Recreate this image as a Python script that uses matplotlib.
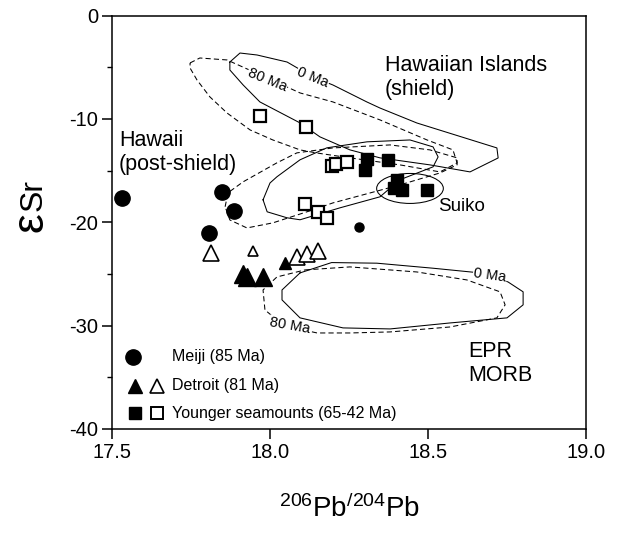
import matplotlib
matplotlib.use('Agg')
import matplotlib.pyplot as plt
from matplotlib.patches import Ellipse
import numpy as np

plt.rcParams['font.family'] = ['Liberation Sans', 'DejaVu Sans']
plt.rcParams['mathtext.fontset'] = 'custom'
plt.rcParams['mathtext.rm'] = 'Liberation Sans'
plt.rcParams['mathtext.it'] = 'Liberation Sans:italic'
plt.rcParams['mathtext.bf'] = 'Liberation Sans:bold'

# ---------------- data ----------------
meiji_x = [17.533, 17.849, 17.886, 17.806]
meiji_y = [-17.7, -17.1, -18.9, -21.0]
meiji_small_x = [18.283]
meiji_small_y = [-20.5]

detroit_open_x = [17.813, 18.084, 18.116, 18.153]
detroit_open_y = [-22.96, -23.35, -23.1, -22.77]
detroit_open_small_x = [17.945]
detroit_open_small_y = [-22.77]
detroit_filled_x = [17.915, 17.926, 17.979]
detroit_filled_y = [-25.0, -25.3, -25.3]
detroit_filled_small_x = [18.049]
detroit_filled_small_y = [-23.9]

younger_open_x = [17.968, 18.114, 18.197, 18.208, 18.243, 18.110, 18.152, 18.179]
younger_open_y = [-9.73, -10.8, -14.6, -14.4, -14.15, -18.2, -19.0, -19.6]
younger_filled_x = [18.306, 18.301, 18.372, 18.401, 18.391, 18.417, 18.496]
younger_filled_y = [-13.9, -14.96, -14.0, -15.9, -16.7, -16.9, -16.9]

# field outlines (206Pb/204Pb, eSr)
shield0_x = [17.873, 17.905, 17.959, 18.054, 18.136, 18.199, 18.307, 18.348, 18.465, 18.718,
             18.722, 18.633, 18.506, 18.348, 18.253, 18.158, 18.095, 17.968, 17.915, 17.873, 17.873]
shield0_y = [-4.50, -3.63, -3.82, -4.50, -5.95, -6.72, -8.37, -8.95, -10.40, -12.81,
             -13.78, -15.13, -14.45, -13.77, -13.0, -11.74, -10.39, -8.36, -6.72, -5.27, -4.50]

shield80_x = [17.747, 17.778, 17.864, 17.991, 18.095, 18.199, 18.348, 18.497, 18.579, 18.592,
              18.538, 18.411, 18.253, 18.146, 18.095, 18.009, 17.937, 17.864, 17.810, 17.769, 17.747, 17.747]
shield80_y = [-4.59, -4.11, -4.30, -6.04, -7.49, -8.36, -10.10, -12.04, -13.0, -14.26,
              -15.13, -14.45, -13.77, -13.29, -13.0, -12.04, -11.07, -9.43, -7.88, -6.24, -5.08, -4.59]

post0_x = [17.978, 18.0, 18.022, 18.095, 18.180, 18.307, 18.443, 18.516, 18.532, 18.516,
           18.411, 18.348, 18.222, 18.095, 18.054, 17.991, 17.978]
post0_y = [-17.83, -16.2, -15.60, -13.96, -12.80, -12.22, -12.04, -12.71, -13.68, -14.64,
           -15.89, -17.54, -18.60, -19.76, -19.57, -18.99, -17.83]

post80_x = [17.858, 17.867, 17.915, 18.022, 18.085, 18.199, 18.380, 18.506, 18.592, 18.592,
            18.538, 18.411, 18.199, 18.136, 18.009, 17.927, 17.873, 17.858]
post80_y = [-18.50, -17.15, -16.09, -14.25, -13.29, -12.81, -12.52, -13.0, -13.77, -14.45,
            -15.23, -16.39, -18.13, -18.80, -20.06, -20.55, -19.78, -18.50]

epr0_x = [18.095, 18.195, 18.338, 18.517, 18.665, 18.753, 18.801, 18.801, 18.750, 18.570,
          18.380, 18.231, 18.095, 18.038, 18.038, 18.095]
epr0_y = [-24.90, -23.90, -23.96, -24.45, -24.90, -25.77, -26.73, -27.99, -29.25, -29.74,
          -30.32, -30.22, -29.25, -27.51, -26.55, -24.90]

epr80_x = [18.111, 18.253, 18.465, 18.623, 18.728, 18.744, 18.718, 18.570, 18.380, 18.253,
           18.149, 18.063, 18.022, 17.984, 17.978, 18.022, 18.111]
epr80_y = [-24.61, -24.32, -24.81, -25.58, -26.73, -27.99, -29.25, -30.13, -30.61, -30.71,
           -30.71, -30.13, -29.45, -28.48, -26.55, -25.29, -24.61]

suiko_center = (18.443, -16.73)
suiko_size = (0.211, 2.9)

xticks = [17.5, 18.0, 18.5, 19.0]
xtick_labels = ['17.5', '18.0', '18.5', '19.0']
yticks = [0, -10, -20, -30, -40]
ytick_labels = ['0', '-10', '-20', '-30', '-40']

# ---------------- figure ----------------
W, H = 621, 534
fig = plt.figure(figsize=(W / 100, H / 100), dpi=100)
ax = fig.add_axes([112 / W, 1 - 429 / H, (586 - 112) / W, (429 - 15.5) / H])
ax.set_xlim(17.5, 19.0)
ax.set_ylim(-40, 0)

lw_field = 0.75
dash = (0, (5, 3))
ax.plot(shield0_x, shield0_y, color='black', lw=lw_field, zorder=1)
ax.plot(shield80_x, shield80_y, color='black', lw=lw_field, ls=dash, zorder=1)
ax.plot(post0_x, post0_y, color='black', lw=lw_field, zorder=1)
ax.plot(post80_x, post80_y, color='black', lw=lw_field, ls=dash, zorder=1)
ax.plot(epr0_x, epr0_y, color='black', lw=lw_field, zorder=1)
ax.plot(epr80_x, epr80_y, color='black', lw=lw_field, ls=dash, zorder=1)
ax.add_patch(Ellipse(suiko_center, suiko_size[0], suiko_size[1], fill=False,
                     edgecolor='black', lw=lw_field, zorder=1))

lab_kw = dict(fontsize=10.5, ha='center', va='center',
              bbox=dict(facecolor='white', edgecolor='none', pad=0.5), zorder=2)
ax.text(18.136, -5.95, '0 Ma', rotation=-22, **lab_kw)
ax.text(17.991, -6.24, '80 Ma', rotation=-22, **lab_kw)
ax.text(18.696, -25.1, '0 Ma', rotation=-8, **lab_kw)
ax.text(18.063, -30.0, '80 Ma', rotation=-10, **lab_kw)

# markers
ax.plot(meiji_x, meiji_y, 'o', ms=11, mfc='black', mec='black', zorder=5)
ax.plot(meiji_small_x, meiji_small_y, 'o', ms=6.5, mfc='black', mec='black', zorder=5)
ax.plot(detroit_open_x, detroit_open_y, '^', ms=12, mfc='white', mec='black', mew=1.2, zorder=5)
ax.plot(detroit_open_small_x, detroit_open_small_y, '^', ms=7.5, mfc='white', mec='black', mew=1.2, zorder=5)
ax.plot(detroit_filled_x, detroit_filled_y, '^', ms=12.5, mfc='black', mec='black', zorder=5)
ax.plot(detroit_filled_small_x, detroit_filled_small_y, '^', ms=8.5, mfc='black', mec='black', zorder=5)
ax.plot(younger_open_x, younger_open_y, 's', ms=8, mfc='white', mec='black', mew=1.6, zorder=5)
ax.plot(younger_filled_x, younger_filled_y, 's', ms=9, mfc='black', mec='black', zorder=5)

# region labels
txt_fs = 15.5
ax.text(18.364, -3.8, 'Hawaiian Islands\n(shield)', fontsize=txt_fs, ha='left', va='top', linespacing=1.2)
ax.text(17.522, -11.1, 'Hawaii\n(post-shield)', fontsize=txt_fs, ha='left', va='top', linespacing=1.2)
ax.text(18.532, -18.5, 'Suiko', fontsize=13.5, ha='left', va='center')
ax.text(18.627, -31.5, 'EPR\nMORB', fontsize=txt_fs, ha='left', va='top', linespacing=1.2)

# manual legend
leg_fs = 11.5
ax.plot([17.566], [-33.0], 'o', ms=11, mfc='black', mec='black', clip_on=False)
ax.plot([17.573], [-35.8], '^', ms=10, mfc='black', mec='black')
ax.plot([17.642], [-35.8], '^', ms=9.5, mfc='white', mec='black', mew=1.2)
ax.plot([17.573], [-38.5], 's', ms=8, mfc='black', mec='black')
ax.plot([17.642], [-38.5], 's', ms=8, mfc='white', mec='black', mew=1.4)
ax.text(17.69, -33.0, 'Meiji (85 Ma)', fontsize=leg_fs, va='center')
ax.text(17.69, -35.8, 'Detroit (81 Ma)', fontsize=leg_fs, va='center')
ax.text(17.69, -38.5, 'Younger seamounts (65-42 Ma)', fontsize=leg_fs, va='center')

# axes styling
for s in ax.spines.values():
    s.set_linewidth(1.1)
ax.set_xticks(xticks)
ax.set_xticklabels(xtick_labels)
ax.set_yticks(yticks)
ax.set_yticklabels(ytick_labels)
ax.set_yticks([-5, -15, -25, -35], minor=True)
ax.tick_params(axis='both', which='major', direction='out', length=7, width=1.1,
               labelsize=14.5, pad=3)
ax.tick_params(axis='y', which='minor', direction='out', length=3.5, width=1.0)

# axis titles
fig.text(349 / W, 1 - 509 / H, r'$^{206}\mathrm{Pb}^{/204}\mathrm{Pb}$', fontsize=20,
         ha='center', va='center')
t1 = fig.text(42 / W, 1 - 232 / H, 'ε', fontsize=32, rotation=90,
              rotation_mode='anchor', ha='left', va='baseline')
fig.canvas.draw()
bb = t1.get_window_extent()
fig.text(42 / W, (bb.y1 + 1) / H, 'Sr', fontsize=23, rotation=90,
         rotation_mode='anchor', ha='left', va='baseline')

fig.savefig('out.png', dpi=100)
